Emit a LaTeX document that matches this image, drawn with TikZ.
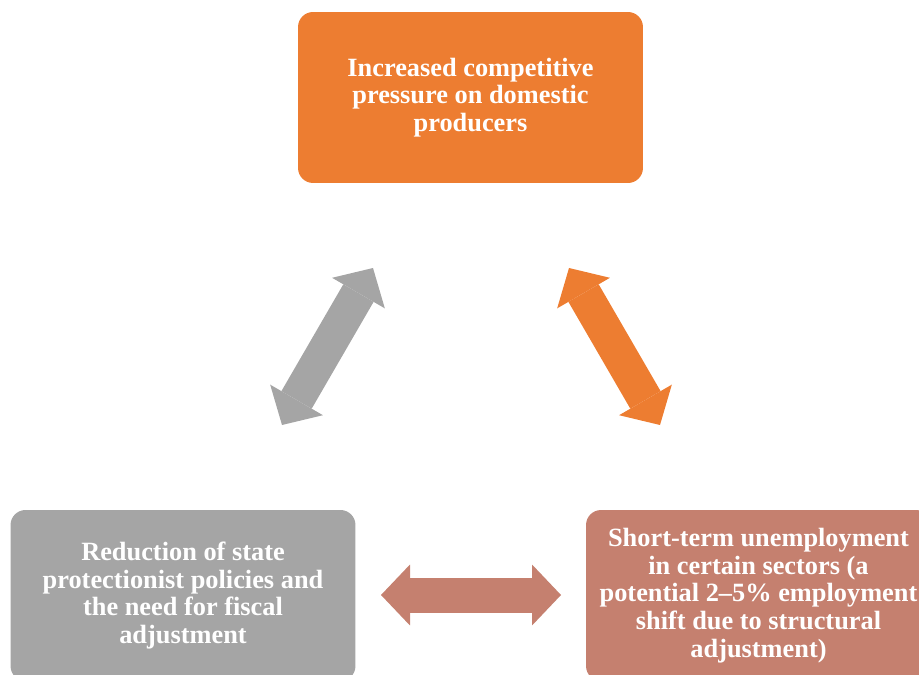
\documentclass[tikz,border=0pt]{standalone}
\usepackage{fontspec}
\setmainfont{Liberation Serif}
\usetikzlibrary{arrows.meta, positioning}
\definecolor{boxorange}{HTML}{ED7D31}
\definecolor{boxgray}{HTML}{A5A5A5}
\definecolor{boxbrown}{HTML}{C5806F}

\begin{document}
\begin{tikzpicture}[x=0.02cm, y=-0.02cm]
    	\tikzstyle{box}=[rectangle, rounded corners=0.3cm, minimum width=6.9cm, minimum height=3.42cm, align=center, text=white, font=\fontsize{15}{15.8}\selectfont\bfseries]
    	\tikzstyle{tip}=[Triangle[length=0.58cm, width=1.22cm, line width=0pt]]
    	\tikzstyle{twoway}=[line width=0.7cm, {Triangle[length=0.58cm, width=1.22cm, line width=0pt]}-{Triangle[length=0.58cm, width=1.22cm, line width=0pt]}]
    	
    	\useasboundingbox (0,0) rectangle (919,675);
    	\clip (0,0) rectangle (919,675);
    	
    	% Boxes
    	\node at (470.5, 97.5) [box, fill=boxorange] (pressure) {Increased competitive\\pressure on domestic\\producers};
    	\node at (183, 595.5) [box, fill=boxgray] (policy) {Reduction of state\\protectionist policies and\\the need for fiscal\\adjustment};
    	\node at (758.5, 595.5) [box, fill=boxbrown] (jobs) {Short-term unemployment\\in certain sectors (a\\potential 2--5\% employment\\shift due to structural\\adjustment)};
    	
    	% Arrow ends
    	\coordinate (policy_up) at (282, 425);
    	\coordinate (pressure_left) at (373, 268);
    	\coordinate (pressure_right) at (569, 268);
    	\coordinate (jobs_up) at (660, 425);
    	\coordinate (policy_right) at (381, 595);
    	\coordinate (jobs_left) at (561, 595);
    	
    	% Arrows
    	\draw [twoway, boxgray] (policy_up) to (pressure_left);
    	\draw [twoway, boxorange] (pressure_right) to (jobs_up);
    	\draw [twoway, boxbrown] (policy_right) to (jobs_left);
    \end{tikzpicture}
\end{document}
